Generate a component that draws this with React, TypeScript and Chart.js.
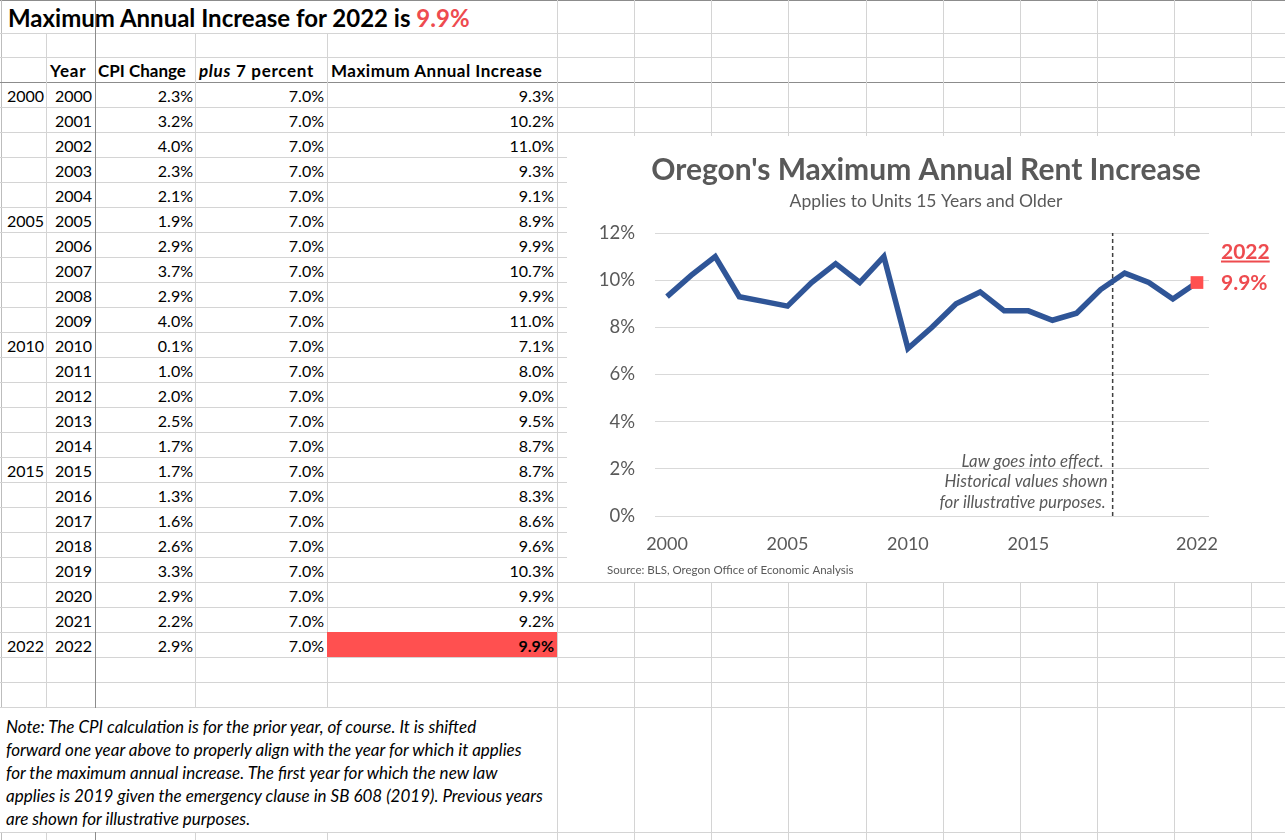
import React, { useEffect, useRef } from "react";
import { Chart, registerables } from "chart.js";

Chart.register(...registerables);

// ---------- data ----------
const years = [2000, 2001, 2002, 2003, 2004, 2005, 2006, 2007, 2008, 2009, 2010, 2011, 2012, 2013, 2014, 2015, 2016, 2017, 2018, 2019, 2020, 2021, 2022];
const markerYears = [2000, 2005, 2010, 2015, 2022];
const cpiChange = [2.3, 3.2, 4.0, 2.3, 2.1, 1.9, 2.9, 3.7, 2.9, 4.0, 0.1, 1.0, 2.0, 2.5, 1.7, 1.7, 1.3, 1.6, 2.6, 3.3, 2.9, 2.2, 2.9];
const plusPercent = [7.0, 7.0, 7.0, 7.0, 7.0, 7.0, 7.0, 7.0, 7.0, 7.0, 7.0, 7.0, 7.0, 7.0, 7.0, 7.0, 7.0, 7.0, 7.0, 7.0, 7.0, 7.0, 7.0];
const maxIncrease = [9.3, 10.2, 11.0, 9.3, 9.1, 8.9, 9.9, 10.7, 9.9, 11.0, 7.1, 8.0, 9.0, 9.5, 8.7, 8.7, 8.3, 8.6, 9.6, 10.3, 9.9, 9.2, 9.9];
const yTickValues = [0, 2, 4, 6, 8, 10, 12];
const xTickYears = [2000, 2005, 2010, 2015, 2022];
const lawEffectYear = 2018.5;
const lawNoteLines = ["Law goes into effect.", "Historical values shown", "for illustrative purposes."];
const headerLabels = ["Year", "CPI Change", "plus", " 7 percent", "Maximum Annual Increase"];
const sheetTitle = "Maximum Annual Increase for 2022 is ";
const chartTitle = "Oregon's Maximum Annual Rent Increase";
const chartSubtitle = "Applies to Units 15 Years and Older";
const sourceText = "Source: BLS, Oregon Office of Economic Analysis";
const noteLines = [
  "Note: The CPI calculation is for the prior year, of course. It is shifted",
  "forward one year above to properly align with the year for which it applies",
  "for the maximum annual increase. The first year for which the new law",
  "applies is 2019 given the emergency clause in SB 608 (2019). Previous years",
  "are shown for illustrative purposes.",
];

// ---------- styling ----------
const FONT = "Lato, 'Open Sans', sans-serif";
const RED = "#FF5050";
const RED_TEXT = "#EE4B4F";
const GREY_TEXT = "#595959";
const GRID = "#D4D4D4";
const FREEZE = "#8C8C8C";

const colX = [46, 95, 195, 327, 557, 634, 711, 788, 866, 943, 1020, 1097, 1174, 1251];
const ROW0 = 82;
const ROWH = 25;

const fmt = (v: number) => v.toFixed(1) + "%";

function ChartBox() {
  const ref = useRef<HTMLCanvasElement | null>(null);
  useEffect(() => {
    if (!ref.current) return;
    const last = maxIncrease.length - 1;
    const annotations = {
      id: "annotations",
      afterDatasetsDraw(chart: any) {
        const ctx = chart.ctx;
        const xs = chart.scales.x;
        const ys = chart.scales.y;
        const area = chart.chartArea;
        ctx.save();
        // law note
        const lawX = xs.getPixelForValue(lawEffectYear);
        ctx.font = `italic 16.8px ${FONT}`;
        ctx.fillStyle = GREY_TEXT;
        ctx.textAlign = "right";
        ctx.textBaseline = "middle";
        const offs = [-54, -34, -13];
        const shifts = [-9, -5, -7];
        lawNoteLines.forEach((t, i) => ctx.fillText(t, lawX + shifts[i], area.bottom + offs[i]));
        // right labels
        const py = ys.getPixelForValue(maxIncrease[last]);
        ctx.font = `bold 21px ${FONT}`;
        ctx.fillStyle = RED_TEXT;
        ctx.textAlign = "left";
        const lx = area.right + 12;
        const yLabel = String(years[last]);
        ctx.fillText(yLabel, lx, py - 30);
        const w = ctx.measureText(yLabel).width;
        ctx.fillRect(lx, py - 22, w, 2);
        ctx.fillText(fmt(maxIncrease[last]), lx, py + 1);
        // source
        ctx.font = `11.5px ${FONT}`;
        ctx.fillStyle = GREY_TEXT;
        ctx.fillText(sourceText, 40, area.bottom + 54);
        ctx.restore();
      },
    };
    const chart = new Chart(ref.current, {
      type: "line",
      data: {
        datasets: [
          {
            label: "Maximum Annual Increase",
            data: years.map((y, i) => ({ x: y, y: maxIncrease[i] })),
            borderColor: "#2F5597",
            borderWidth: 5.5,
            tension: 0,
            pointStyle: "rect",
            pointRadius: years.map((_, i) => (i === last ? 9 : 0)),
            pointBackgroundColor: RED,
            pointBorderWidth: 0,
            pointHoverRadius: 0,
          },
          {
            label: "Law goes into effect",
            data: [
              { x: lawEffectYear, y: yTickValues[0] },
              { x: lawEffectYear, y: yTickValues[yTickValues.length - 1] },
            ],
            borderColor: "#404040",
            borderWidth: 1.5,
            borderDash: [4, 3],
            pointRadius: 0,
          },
        ],
      },
      options: {
        animation: false,
        responsive: false,
        devicePixelRatio: 1,
        layout: { padding: 0 },
        plugins: {
          legend: { display: false },
          tooltip: { enabled: false },
          title: {
            display: true,
            text: chartTitle,
            color: GREY_TEXT,
            font: { family: FONT, size: 30, weight: "bold" },
            padding: { top: 16, bottom: 0 },
          },
          subtitle: {
            display: true,
            text: chartSubtitle,
            color: GREY_TEXT,
            font: { family: FONT, size: 17.5 },
            padding: { top: 2.5, bottom: 21.5 },
          },
        },
        scales: {
          x: {
            type: "linear",
            min: years[0] - 0.5,
            max: years[years.length - 1] + 0.5,
            afterBuildTicks: (s: any) => {
              s.ticks = xTickYears.map((v) => ({ value: v }));
            },
            afterFit: (s: any) => {
              s.height = 66;
            },
            grid: { display: false, drawTicks: false },
            border: { display: false },
            ticks: {
              color: GREY_TEXT,
              font: { family: FONT, size: 18 },
              padding: 17,
              maxRotation: 0,
              autoSkip: false,
              callback: (v: any) => String(v),
            },
          },
          y: {
            min: yTickValues[0],
            max: yTickValues[yTickValues.length - 1],
            afterBuildTicks: (s: any) => {
              s.ticks = yTickValues.map((v) => ({ value: v }));
            },
            afterFit: (s: any) => {
              s.width = 88;
            },
            grid: { color: "#D9D9D9", lineWidth: 1, drawTicks: false },
            border: { display: false },
            ticks: {
              color: GREY_TEXT,
              font: { family: FONT, size: 18.5 },
              padding: 20,
              callback: (v: any) => v + "%",
            },
          },
          yRight: {
            position: "right",
            min: yTickValues[0],
            max: yTickValues[yTickValues.length - 1],
            afterFit: (s: any) => {
              s.width = 76;
            },
            grid: { display: false, drawTicks: false },
            border: { display: false },
            ticks: { display: false },
          },
        },
      },
      plugins: [annotations],
    } as any);
    return () => chart.destroy();
  }, []);
  return (
    <div style={{ position: "absolute", left: 567, top: 136, width: 718, height: 446, background: "#fff", zIndex: 5 }}>
      <canvas ref={ref} width={718} height={446} style={{ width: 718, height: 446, display: "block" }} />
    </div>
  );
}

function Line({ x, y, w, h, c }: { x: number; y: number; w: number; h: number; c: string }) {
  return <div style={{ position: "absolute", left: x, top: y, width: w, height: h, background: c }} />;
}

export default function App() {
  const rowLines: number[] = [33, 57, ROW0];
  years.forEach((_, i) => rowLines.push(ROW0 + ROWH * (i + 1)));
  const afterTable = ROW0 + ROWH * years.length;
  rowLines.push(afterTable + 25, afterTable + 50, afterTable + 175);
  const noteTop = afterTable + 50;
  const noteBottom = afterTable + 175;

  const lines: React.ReactNode[] = [];
  lines.push(<Line key="top" x={0} y={0} w={1285} h={1} c={FREEZE} />);
  lines.push(<Line key="left" x={1} y={0} w={1} h={840} c="#BDBDBD" />);
  rowLines.forEach((y, i) => {
    lines.push(<Line key={"r" + i} x={0} y={y} w={1285} h={1} c={y === ROW0 ? FREEZE : GRID} />);
  });
  colX.forEach((x, i) => {
    if (x === 95) {
      lines.push(<Line key={"c" + i} x={x} y={0} w={1} h={840} c={FREEZE} />);
    } else if (x === 46 || x === 195 || x === 327) {
      lines.push(<Line key={"c" + i + "a"} x={x} y={33} w={1} h={noteTop - 33} c={GRID} />);
      lines.push(<Line key={"c" + i + "b"} x={x} y={noteBottom} w={1} h={840 - noteBottom} c={GRID} />);
    } else {
      lines.push(<Line key={"c" + i} x={x} y={0} w={1} h={840} c={GRID} />);
    }
  });

  const cell = (text: React.ReactNode, left: number, right: number, top: number, align: "left" | "right", extra: React.CSSProperties = {}) => (
    <div
      style={{
        position: "absolute",
        left,
        width: right - left,
        top: top + 1,
        height: ROWH,
        lineHeight: ROWH + "px",
        textAlign: align,
        whiteSpace: "nowrap",
        zIndex: 3,
        ...extra,
      }}
    >
      {text}
    </div>
  );

  const headStyle: React.CSSProperties = { fontWeight: 700, fontSize: 17 };
  const wideHead: React.CSSProperties = { ...headStyle, letterSpacing: "0.5px" };

  return (
    <div
      style={{
        position: "fixed",
        left: 0,
        top: 0,
        width: 1285,
        height: 840,
        overflow: "hidden",
        background: "#fff",
        fontFamily: FONT,
        fontSize: 16,
        color: "#000",
      }}
    >
      {lines}
      {/* sheet title */}
      <div style={{ position: "absolute", left: 8, top: 3, lineHeight: "30px", fontSize: 24, fontWeight: 700, whiteSpace: "nowrap", zIndex: 3 }}>
        {sheetTitle}
        <span style={{ color: RED_TEXT }}>{fmt(maxIncrease[maxIncrease.length - 1])}</span>
      </div>
      {/* headers */}
      {cell(headerLabels[0], 50, 95, 57, "left", { ...headStyle, letterSpacing: "0.8px" })}
      {cell(headerLabels[1], 98, 195, 57, "left", headStyle)}
      {cell(
        <span>
          <i>{headerLabels[2]}</i>
          {headerLabels[3]}
        </span>,
        199, 327, 57, "left", { ...headStyle, letterSpacing: "0.7px" }
      )}
      {cell(headerLabels[4], 331, 557, 57, "left", wideHead)}
      {/* rows */}
      {years.map((yr, i) => {
        const top = ROW0 + ROWH * i;
        const isLast = i === years.length - 1;
        return (
          <React.Fragment key={yr}>
            {markerYears.includes(yr) ? cell(String(yr), 2, 44, top, "right") : null}
            {cell(String(yr), 46, 92, top, "right")}
            {cell(fmt(cpiChange[i]), 95, 193, top, "right")}
            {cell(fmt(plusPercent[i]), 195, 324, top, "right")}
            {isLast ? (
              <div style={{ position: "absolute", left: 327, top: top, width: 230, height: 25, background: RED, zIndex: 2 }} />
            ) : null}
            {cell(fmt(maxIncrease[i]), 327, 554, top, "right", isLast ? { fontWeight: 700 } : {})}
          </React.Fragment>
        );
      })}
      {/* note */}
      <div style={{ position: "absolute", left: 0, top: noteTop + 1, width: 557, height: noteBottom - noteTop - 1, background: "#fff", zIndex: 2 }} />
      <div style={{ position: "absolute", left: 6, top: noteTop + 8, fontStyle: "italic", fontSize: 17, lineHeight: "23px", zIndex: 3 }}>
        {noteLines.map((l, i) => (
          <div key={i} style={{ whiteSpace: "nowrap" }}>{l}</div>
        ))}
      </div>
      <Line x={95} y={noteTop} w={1} h={noteBottom - noteTop} c={FREEZE} />
      <ChartBox />
    </div>
  );
}
